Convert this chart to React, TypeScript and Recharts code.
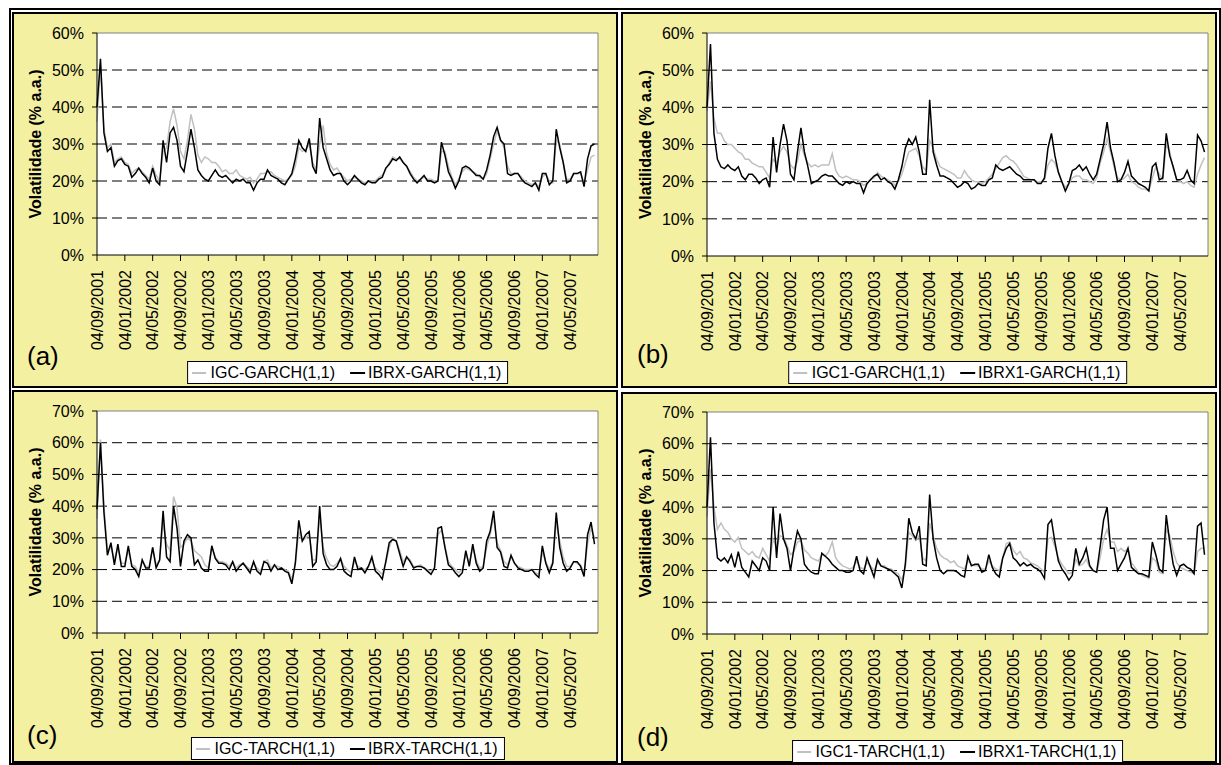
import React from 'react';
import { LineChart, Line, XAxis, YAxis, CartesianGrid, ReferenceLine } from 'recharts';

// x axis: months since 04/09/2001, sampled every half month
const tickMonths = [0, 4, 8, 12, 16, 20, 24, 28, 32, 36, 40, 44, 48, 52, 56, 60, 64, 68];
const tickLabels = [
  '04/09/2001', '04/01/2002', '04/05/2002', '04/09/2002', '04/01/2003', '04/05/2003',
  '04/09/2003', '04/01/2004', '04/05/2004', '04/09/2004', '04/01/2005', '04/05/2005',
  '04/09/2005', '04/01/2006', '04/05/2006', '04/09/2006', '04/01/2007', '04/05/2007',
];
const months = Array.from({ length: 144 }, (_, i) => i / 2);

// (a) GARCH
const igcGarch = [
  36, 51, 34, 29, 30, 25, 26, 26.5, 25, 24.5,
  22, 23, 23.5, 22.5, 21.5, 20.5, 24, 21.5, 20, 28,
  29, 36, 39.5, 35, 28, 26, 31, 38, 34, 27,
  25, 26.5, 26, 25, 25, 24, 22.5, 23, 22, 22,
  23, 21.5, 21, 20.5, 21, 19.5, 20.5, 22, 22, 22.5,
  22.5, 21.5, 21, 20.5, 20, 20.5, 21.5, 24, 29, 28,
  28.5, 30, 25, 23, 30, 35, 27.5, 24.5, 23, 23.5,
  22, 21, 20, 20.5, 21, 20.5, 20, 19.5, 20, 20,
  20, 21, 21.5, 23, 25, 26.5, 26, 26, 25, 24,
  22.5, 21, 20, 20.5, 21, 20.5, 20.5, 20, 20, 28,
  28, 24, 21, 19, 20.5, 22.5, 23.5, 23, 22.5, 22,
  21, 20.5, 22, 26, 30, 33.5, 31, 29, 24, 22,
  22, 22, 21, 20, 19.5, 19, 19.5, 18.5, 21, 22,
  20, 19.5, 31, 30, 25, 20.5, 20.5, 22, 22, 22,
  19.5, 23, 26.5, 27,
];
const ibrxGarch = [
  40, 53, 33, 28, 29, 24, 25.5, 26, 24.5, 24,
  21, 22, 23.5, 22, 21, 19.5, 23.5, 20, 19, 31,
  25, 33, 34.5, 31, 24, 22.5, 28, 34, 29, 23,
  21.5, 20.5, 20, 21.5, 23, 21.5, 21, 21.5, 20.5, 19.5,
  20.5, 20, 20.5, 19.5, 19.5, 17.5, 19.5, 20.5, 20.5, 23,
  21.5, 21, 20.5, 19.5, 19, 20.5, 22, 26, 31, 29,
  28, 31.5, 24, 22, 37, 29, 26, 23, 21.5, 22,
  22, 20, 19, 20, 21.5, 20.5, 19.5, 19, 20, 19.5,
  19.5, 20.5, 21, 23.5, 24.5, 26, 25.5, 26.5, 25, 24,
  22, 20.5, 19.5, 20.5, 21.5, 20, 20, 19.5, 20, 30.5,
  27, 22.5, 20.5, 18, 20, 23.5, 24, 23.5, 22.5, 21.5,
  21.5, 20.5, 23, 27, 32, 34.5, 31, 30, 22, 21.5,
  22, 22, 20.5, 19.5, 19, 18.5, 19.5, 17.5, 22, 22,
  19, 20, 34, 29, 25, 19.5, 20, 22, 22, 22.5,
  18.5, 26, 29.5, 30,
];

// (b) GARCH, index 1
const igc1Garch = [
  39, 47, 37, 33, 33, 31, 30, 30, 29, 28,
  27.5, 26, 26, 25, 24.5, 24, 24, 22.5, 21, 26,
  25, 28, 29.5, 28, 24.5, 23.5, 25.5, 30, 27, 25,
  24, 24.5, 24, 24.5, 24.5, 24.5, 27.5, 23, 21.5, 21,
  21.5, 21, 20.5, 20.5, 20, 19, 19.5, 20.5, 21, 22.5,
  21.5, 21, 20.5, 20, 19, 20, 22, 25, 28, 28.5,
  29, 27, 24, 23, 31, 29, 26, 24, 23.5, 23,
  22.5, 22, 21, 21, 23, 21.5, 20.5, 20, 20, 19.5,
  20, 21, 22, 23.5, 25, 26.5, 27, 26, 25.5, 24.5,
  23, 21.5, 21, 20.5, 20.5, 20, 20, 20.5, 24.5, 26,
  25, 22.5, 20, 18.5, 19.5, 21, 21.5, 21.5, 20.5, 20.5,
  20, 19.5, 21, 25, 28, 31.5, 28, 24, 21, 20.5,
  21, 22, 20, 19.5, 18.5, 18, 18, 17.5, 21, 24,
  22, 20.5, 30, 28, 23.5, 20.5, 20, 19.5, 20, 19,
  18.5, 22, 24.5, 26.5,
];
const ibrx1Garch = [
  40, 57, 33, 26, 24, 23.5, 24.5, 23.5, 23, 24,
  21.5, 20.5, 22, 22, 21, 19.5, 20.5, 21, 18.5, 32,
  22.5, 30, 35.5, 31, 22, 20.5, 28, 34.5, 28, 24,
  19.5, 20, 20.5, 21.5, 22, 21.5, 21.5, 20.5, 19.5, 19,
  20, 19.5, 20, 19.5, 19.5, 17, 19.5, 20.5, 21.5, 22,
  20.5, 21, 20, 19.5, 18, 20.5, 24, 29, 31.5, 30,
  32, 28, 22, 22, 42, 28, 24.5, 21.5, 21.5, 21,
  20.5, 19.5, 18.5, 19, 20, 19.5, 18, 18.5, 19.5, 19,
  19, 20.5, 21, 24.5, 23.5, 23, 23.5, 24, 23, 22,
  21.5, 20.5, 20.5, 20.5, 20.5, 19.5, 19.5, 21, 29, 33,
  27, 22.5, 20, 17.5, 19.5, 23, 23.5, 24.5, 23, 24,
  22, 20.5, 22, 26, 30, 36, 29, 25, 20, 20.5,
  22.5, 25.5, 21.5, 20.5, 19.5, 19, 18.5, 17.5, 24, 25,
  20.5, 21, 33, 27, 24, 20.5, 20.5, 21, 23, 20.5,
  19.5, 32.5, 31, 28,
];

// (c) TARCH
const igcTarch = [
  36, 61, 40, 26, 27, 23, 27, 22, 22, 26,
  21.5, 21, 19, 23, 21, 21, 27, 21.5, 23, 35,
  28, 26, 43, 39.5, 27, 28, 30, 29, 26, 25,
  24, 21.5, 20.5, 27, 24, 22.5, 22.5, 22, 21, 22.5,
  20.5, 21.5, 22, 21, 20, 22, 20.5, 19.5, 22.5, 23,
  20.5, 21.5, 21, 20.5, 20, 19.5, 17, 21.5, 32, 29,
  30, 31, 23, 23, 37, 27, 23.5, 21.5, 21, 22,
  23.5, 21, 20, 19, 22.5, 21, 20.5, 20, 21, 23,
  20.5, 19.5, 18.5, 22, 27, 30, 29, 26, 22.5, 24,
  23, 21, 21, 21.5, 20.5, 20, 19.5, 20.5, 31, 32.5,
  27.5, 22.5, 21, 20, 19, 20, 25, 22, 27, 23,
  20.5, 21, 27, 31, 36.5, 28.5, 26, 22.5, 21.5, 24,
  22, 21, 20.5, 20, 20, 20, 19, 18.5, 25.5, 22.5,
  20, 22.5, 35, 29, 24, 21, 21, 22.5, 22, 21.5,
  19, 28, 33, 30,
];
const ibrxTarch = [
  39, 60, 38, 24.5, 28.5, 21.5, 28, 21, 21, 27.5,
  21, 20, 17.8, 23, 20.5, 20.5, 27, 20.5, 23, 38.5,
  24, 22.5, 40, 33, 21, 29, 31, 30, 21.5, 23,
  20.5, 19.5, 19.5, 27.5, 23.5, 22, 22, 21.5, 20, 22.5,
  19.5, 21, 22, 20.5, 19, 22.5, 19.5, 18.5, 22.5, 22,
  19.5, 21.5, 20, 20.5, 19.5, 19, 15.5, 22, 35.5, 29,
  31, 32, 21, 22.5, 40, 25, 21.5, 20, 20, 21,
  23.5, 19.5, 18.5, 17.8, 24, 20, 20.5, 19, 21, 24,
  19.5, 18.5, 17, 22.5, 28.5, 29.5, 29, 25, 21, 24,
  22.5, 20.5, 21, 21, 20.5, 19.5, 18.5, 20.5, 33, 33.5,
  27, 21.5, 20.5, 19, 17.8, 19, 26, 21, 28, 22,
  19.5, 20.5, 29, 32, 38.5, 27, 25.5, 21, 20.5, 24.5,
  22, 20.5, 20, 19.5, 19.5, 20, 18.5, 17.5, 27.5, 22,
  19, 22, 38, 27, 22, 19.5, 20.5, 22.5, 22.5, 21,
  17.8, 31, 35, 28,
];

// (d) TARCH, index 1
const igc1Tarch = [
  37, 52, 40, 33, 35, 33, 32, 30, 29, 30.5,
  27, 26, 25, 26, 24.5, 24, 27, 25, 23, 30,
  27, 31, 30.5, 28, 25, 26, 29, 29.5, 26.5, 25.5,
  24, 23.5, 23, 25, 24.5, 26, 29, 24, 22.5, 21.5,
  21, 20.5, 21, 23, 21, 20.5, 22.5, 21.5, 20, 22.5,
  21.5, 21.5, 20.5, 20.5, 19.5, 19, 17, 21, 32, 31,
  29.5, 31, 24, 23, 35, 31, 27, 25, 24, 23.5,
  22.5, 23, 21.5, 21, 20.5, 23, 22, 21.5, 21.5, 20.5,
  20.5, 23, 21.5, 20.5, 20, 24, 28.5, 29, 26.5, 25,
  26, 24, 23.5, 22.5, 22, 21.5, 20.5, 19.5, 30, 30.5,
  27.5, 24, 22, 20.5, 19, 19.5, 23.5, 21.5, 22, 23.5,
  21, 20, 19.5, 24, 30, 33, 29, 29, 26, 27,
  26, 27, 22.5, 21, 19.5, 18.5, 18, 17.5, 24, 23,
  19.5, 19, 33, 31, 26, 22.5, 21, 20.5, 20, 19.5,
  19, 26, 27, 27,
];
const ibrx1Tarch = [
  40, 62, 35, 24, 23, 24, 22.5, 25, 21, 26,
  21, 19.5, 18, 23, 21.5, 20, 24, 23, 20, 40,
  24, 38, 30, 27, 20, 27, 32.5, 30, 22, 20.5,
  19.5, 19, 19, 25.5, 24.5, 23.5, 22, 21, 20, 20,
  19.5, 19.5, 20, 24.5, 20, 19, 24, 21, 18, 23.5,
  21.5, 21, 20.5, 20, 19, 18, 14.5, 22, 36.5, 32,
  30, 34, 22, 21.5, 44, 30, 24, 20, 19, 20,
  20, 20, 19.5, 18.5, 18, 24.5, 21.5, 22, 22, 19.5,
  20, 25, 21, 19, 18, 24, 27, 28.5, 24, 23,
  21.5, 22.5, 21.5, 22, 21, 20.5, 19.5, 17.5, 34.5, 36,
  29, 23, 20.5, 19, 17, 18.5, 27, 22, 24, 27,
  21.5, 20, 19.5, 27.5, 36, 40, 27, 27, 20, 22,
  24, 27, 21, 20, 19, 19, 18.5, 18, 29, 25,
  20.5, 19.5, 37.5, 29, 22, 18.5, 21.5, 22, 21, 20.5,
  19, 34, 35, 25,
];

const ticks60 = [0, 10, 20, 30, 40, 50, 60];
const ticks70 = [0, 10, 20, 30, 40, 50, 60, 70];
const grid60 = [10, 20, 30, 40, 50];
const grid70 = [10, 20, 30, 40, 50, 60];

const YELLOW = '#F4F0A2';
const FONT = '"Liberation Sans", Arial, Helvetica, sans-serif';

function XTick(props: any) {
  const { x, y, payload } = props;
  const idx = tickMonths.indexOf(payload.value);
  return (
    <g transform={`translate(${x},${y})`}>
      <text x={0} y={0} dy="0.36em" textAnchor="end" transform="rotate(-90)" fontSize={16} fontFamily={FONT} fill="#000">
        {tickLabels[idx]}
      </text>
    </g>
  );
}

type Box = { x: number; y: number; w: number; h: number };
type Plot = { l: number; t: number; r: number; b: number };

function Panel(p: {
  box: Box; plot: Plot; yMax: number; yTicks: number[]; gridVals: number[];
  grey: number[]; black: number[]; greyName: string; blackName: string;
  tag: string; tagLeft: number; tagTop: number; legendTop: number;
}) {
  const { box, plot } = p;
  const data = months.map((m, i) => ({ m, g: p.grey[i], b: p.black[i] }));
  const yAxisW = 70;
  const xAxisH = 90;
  const margin = {
    top: plot.t - box.y,
    left: plot.l - box.x - yAxisW,
    right: box.x + box.w - plot.r,
    bottom: box.y + box.h - plot.b - xAxisH,
  };
  const cx = (plot.l + plot.r) / 2;
  return (
    <>
      <div style={{ position: 'absolute', left: box.x, top: box.y, width: box.w, height: box.h, boxSizing: 'border-box', border: '2px solid #000', background: YELLOW }} />
      <div style={{ position: 'absolute', left: box.x, top: box.y }}>
        <LineChart width={box.w} height={box.h} data={data} margin={margin}>
          <CartesianGrid horizontal vertical={false} horizontalValues={p.gridVals} stroke="#000" strokeDasharray="10 5" fill="#fff" />
          <XAxis
            type="number" dataKey="m" domain={[0, 72]} ticks={tickMonths} interval={0}
            height={xAxisH} tickSize={6} tickMargin={9}
            tick={(tp: any) => <XTick {...tp} />}
            axisLine={{ stroke: '#000' }} tickLine={{ stroke: '#000' }}
          />
          <YAxis
            type="number" domain={[0, p.yMax]} ticks={p.yTicks} interval={0} width={yAxisW}
            tickFormatter={(v: number) => `${v}%`} tickSize={5} tickMargin={8}
            tick={{ fontSize: 16, fill: '#000', fontFamily: FONT }}
            axisLine={{ stroke: '#000' }} tickLine={{ stroke: '#000' }}
            label={{ value: 'Volatilidade (% a.a.)', angle: -90, position: 'insideLeft', offset: 8,
              style: { textAnchor: 'middle', fontWeight: 'bold', fontSize: 16, fontFamily: FONT, fill: '#000' } }}
          />
          <ReferenceLine y={p.yMax} stroke="#808080" />
          <ReferenceLine x={72} stroke="#808080" />
          <Line type="linear" dataKey="g" stroke="#C0C0C0" strokeWidth={1.5} dot={false} isAnimationActive={false} />
          <Line type="linear" dataKey="b" stroke="#000" strokeWidth={1.5} dot={false} isAnimationActive={false} />
        </LineChart>
      </div>
      <div style={{ position: 'absolute', left: p.tagLeft, top: p.tagTop, fontFamily: FONT, fontSize: 26, lineHeight: 1, color: '#000' }}>{p.tag}</div>
      <div style={{
        position: 'absolute', left: cx, top: p.legendTop, transform: 'translateX(-50%)', background: '#fff',
        border: '1px solid #000', height: 23, boxSizing: 'border-box', display: 'flex', alignItems: 'center',
        padding: '0 6px 0 4px', fontFamily: FONT, fontSize: 16, whiteSpace: 'nowrap', color: '#000',
      }}>
        <span style={{ display: 'inline-block', width: 14, height: 2, background: '#C0C0C0', marginRight: 5 }} />
        <span>{p.greyName}</span>
        <span style={{ display: 'inline-block', width: 15, height: 2, background: '#000', marginLeft: 15, marginRight: 3 }} />
        <span>{p.blackName}</span>
      </div>
    </>
  );
}

export default function App() {
  return (
    <div style={{ position: 'absolute', left: 0, top: 0, width: 1221, height: 765, background: '#fff', overflow: 'hidden' }}>
      <div style={{ position: 'absolute', left: 9, top: 8, width: 1212, height: 757, boxSizing: 'border-box', border: '2px solid #000' }} />
      <Panel
        box={{ x: 12, y: 12, w: 606, h: 376 }} plot={{ l: 97, t: 33, r: 598, b: 255 }}
        yMax={60} yTicks={ticks60} gridVals={grid60} grey={igcGarch} black={ibrxGarch}
        greyName="IGC-GARCH(1,1)" blackName="IBRX-GARCH(1,1)" tag="(a)" tagLeft={27} tagTop={343} legendTop={361}
      />
      <Panel
        box={{ x: 621, y: 12, w: 596, h: 376 }} plot={{ l: 707, t: 33, r: 1208, b: 256 }}
        yMax={60} yTicks={ticks60} gridVals={grid60} grey={igc1Garch} black={ibrx1Garch}
        greyName="IGC1-GARCH(1,1)" blackName="IBRX1-GARCH(1,1)" tag="(b)" tagLeft={637} tagTop={341} legendTop={361}
      />
      <Panel
        box={{ x: 12, y: 390, w: 606, h: 373 }} plot={{ l: 97, t: 411, r: 598, b: 633 }}
        yMax={70} yTicks={ticks70} gridVals={grid70} grey={igcTarch} black={ibrxTarch}
        greyName="IGC-TARCH(1,1)" blackName="IBRX-TARCH(1,1)" tag="(c)" tagLeft={27} tagTop={722} legendTop={737}
      />
      <Panel
        box={{ x: 621, y: 392, w: 596, h: 371 }} plot={{ l: 707, t: 412, r: 1208, b: 634 }}
        yMax={70} yTicks={ticks70} gridVals={grid70} grey={igc1Tarch} black={ibrx1Tarch}
        greyName="IGC1-TARCH(1,1)" blackName="IBRX1-TARCH(1,1)" tag="(d)" tagLeft={637} tagTop={724} legendTop={740}
      />
    </div>
  );
}
